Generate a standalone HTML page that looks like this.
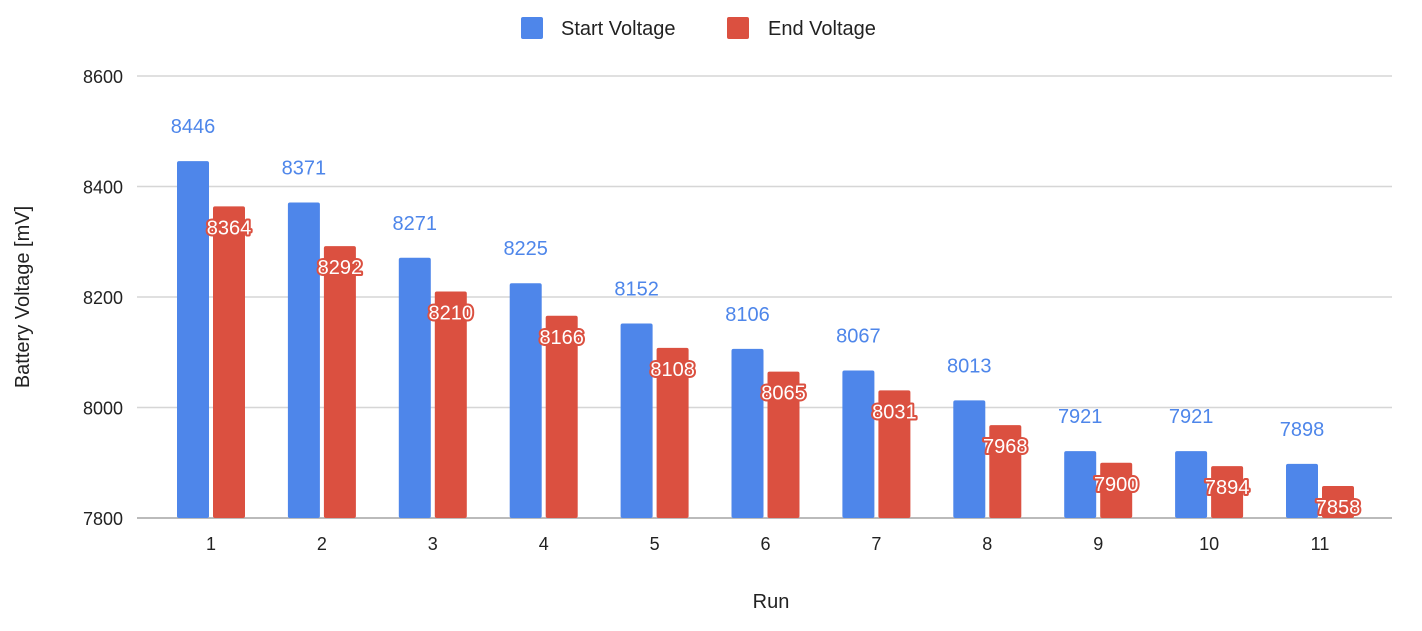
<!DOCTYPE html>
<html><head><meta charset="utf-8"><style>
body{margin:0;background:#fff;}
svg text{font-family:"Liberation Sans",Arial,sans-serif;}
</style></head><body>
<svg id="chart" width="1422" height="626" xmlns="http://www.w3.org/2000/svg">
<g id="grid"></g>
<g id="bars"></g>
<g id="labels"></g>
<g>
<rect x="521" y="17" width="22" height="22" rx="2" fill="#4e86ea"/>
<text x="561" y="35" font-size="20" fill="#222">Start Voltage</text>
<rect x="727" y="17" width="22" height="22" rx="2" fill="#db5040"/>
<text x="768" y="35" font-size="20" fill="#222">End Voltage</text>
</g>
<text x="771" y="608" font-size="20" text-anchor="middle" fill="#222">Run</text>
<text transform="translate(29,297) rotate(-90)" font-size="20" text-anchor="middle" fill="#222">Battery Voltage [mV]</text>
</svg>
<script>
const categories=["1","2","3","4","5","6","7","8","9","10","11"];
const startVoltage=[8446,8371,8271,8225,8152,8106,8067,8013,7921,7921,7898];
const endVoltage=[8364,8292,8210,8166,8108,8065,8031,7968,7900,7894,7858];
const yTicks=[7800,8000,8200,8400,8600];
const NS="http://www.w3.org/2000/svg";
const yMin=7800,yMax=8600,yTop=76,yBot=518;
function y(v){return yBot-(v-yMin)/(yMax-yMin)*(yBot-yTop);}
function cx(i){return 211+i*110.9;}
function mk(tag,attrs,parent){const e=document.createElementNS(NS,tag);for(const k in attrs)e.setAttribute(k,attrs[k]);parent.appendChild(e);return e;}
const grid=document.getElementById('grid'),bars=document.getElementById('bars'),labels=document.getElementById('labels');
yTicks.forEach(t=>{
 const l=mk('line',{x1:137,x2:1392,y1:y(t),y2:y(t),stroke:t===yMin?'#bbb':'#d6d6d6','stroke-width':t===yMin?2:1.5},grid);
 
 
 const tx=mk('text',{x:123,y:y(t)+7,'font-size':18,'text-anchor':'end',fill:'#222'},grid);
 tx.textContent=t;
 
 
});
const bw=32,gap=4;
categories.forEach((c,i)=>{
 const x0=cx(i);
 const bx=x0-gap/2-bw, rx=x0+gap/2;
 const b=mk('rect',{x:bx,y:y(startVoltage[i]),width:bw,height:yBot-y(startVoltage[i]),rx:2,fill:'#4e86ea'},bars);
 
 
 const r=mk('rect',{x:rx,y:y(endVoltage[i]),width:bw,height:yBot-y(endVoltage[i]),rx:2,fill:'#db5040'},bars);
 
 
 const xl=mk('text',{x:x0,y:550,'font-size':18,'text-anchor':'middle',fill:'#222'},grid);
 xl.textContent=c;
 
 
 const bl=mk('text',{x:bx+bw/2,y:y(startVoltage[i])-28,'font-size':20,'text-anchor':'middle',fill:'#4e86ea'},labels);
 bl.textContent=startVoltage[i];
 
 
 const rl=mk('text',{x:rx+bw/2,y:y(endVoltage[i])+28,'font-size':20,'text-anchor':'middle',fill:'#fff',stroke:'#db5040','stroke-width':4,'paint-order':'stroke','stroke-linejoin':'round'},labels);
 rl.textContent=endVoltage[i];
 
 
});
</script>
</body></html>
